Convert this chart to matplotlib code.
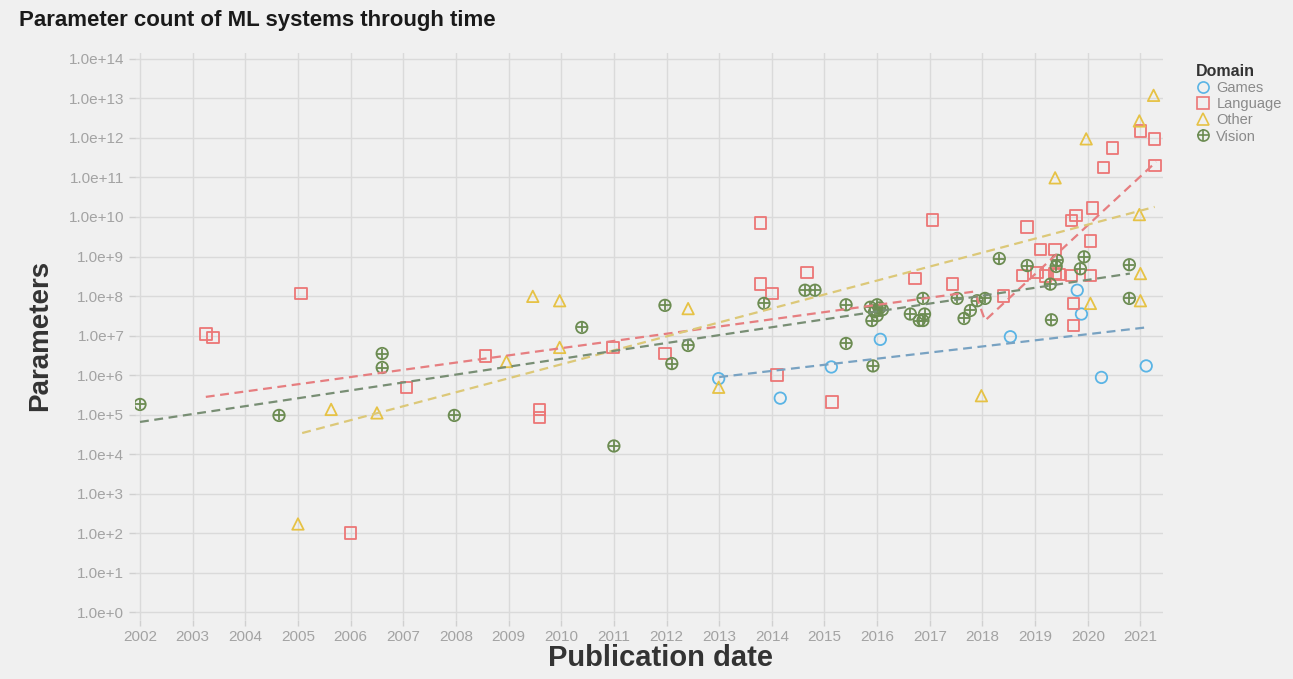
import numpy as np
import matplotlib.pyplot as plt
from matplotlib.lines import Line2D
from matplotlib.legend_handler import HandlerTuple
from matplotlib.ticker import FuncFormatter, NullLocator

plt.rcParams['font.family'] = ['Liberation Sans', 'DejaVu Sans']

# data (publication year, parameter count)
games_year = [2012.99, 2014.16, 2015.13, 2016.06, 2018.53, 2019.80, 2019.88, 2020.26, 2021.11]
games_params = [8.1e5, 2.6e5, 1.6e6, 8.0e6, 9.3e6, 1.4e8, 3.5e7, 8.7e5, 1.7e6]

language_year = [2003.25, 2003.39, 2005.06, 2006.00, 2007.06, 2008.56, 2009.59, 2009.59,
                 2010.98, 2011.97, 2013.78, 2013.78, 2014.00, 2014.10, 2014.67, 2015.14,
                 2016.72, 2017.05, 2017.43, 2018.40, 2018.76, 2018.85, 2019.04, 2019.10,
                 2019.20, 2019.38, 2019.38, 2019.45, 2019.69, 2019.69, 2019.73, 2019.73,
                 2019.78, 2020.05, 2020.05, 2020.09, 2020.30, 2020.47, 2021.00, 2021.27,
                 2021.28]
language_params = [1.1e7, 9.0e6, 1.15e8, 1.0e2, 4.9e5, 3.0e6, 1.35e5, 8.5e4,
                   5.0e6, 3.5e6, 7.0e9, 2.0e8, 1.15e8, 1.0e6, 4.0e8, 2.1e5,
                   2.75e8, 8.5e9, 2.0e8, 1.0e8, 3.3e8, 5.6e9, 4.0e8, 1.5e9,
                   3.2e8, 1.5e9, 3.7e8, 3.5e8, 8.1e9, 3.3e8, 6.5e7, 1.8e7,
                   1.1e10, 3.3e8, 2.5e9, 1.7e10, 1.8e11, 5.6e11, 1.5e12, 9.5e11,
                   2.0e11]

other_year = [2005.00, 2005.63, 2006.50, 2008.96, 2009.46, 2009.97, 2009.97, 2012.41,
              2012.99, 2017.98, 2019.38, 2019.97, 2020.05, 2020.98, 2021.25, 2020.98,
              2021.00, 2021.00]
other_params = [1.7e2, 1.35e5, 1.1e5, 2.2e6, 9.8e7, 7.6e7, 5.0e6, 4.8e7,
                4.9e5, 3.0e5, 9.8e10, 9.5e11, 6.5e7, 2.7e12, 1.2e13, 1.15e10,
                3.7e8, 7.6e7]

vision_year = [2002.00, 2004.64, 2006.60, 2006.60, 2007.97, 2010.39, 2011.00, 2011.97,
               2012.10, 2012.41, 2013.85, 2014.63, 2014.82, 2015.41, 2015.41, 2015.87,
               2015.92, 2015.95, 2016.00, 2016.05, 2015.90, 2016.10, 2016.00, 2016.63,
               2016.80, 2016.87, 2016.90, 2016.87, 2017.52, 2017.65, 2017.77, 2017.90,
               2018.05, 2018.32, 2018.85, 2019.29, 2019.31, 2019.42, 2019.40, 2019.86,
               2019.93, 2020.79, 2020.79]
vision_params = [1.8e5, 9.5e4, 3.5e6, 1.55e6, 9.5e4, 1.6e7, 1.6e4, 5.8e7,
                 1.95e6, 5.6e6, 6.5e7, 1.4e8, 1.4e8, 6.0e7, 6.3e6, 5.2e7,
                 1.7e6, 4.0e7, 3.2e7, 5.0e7, 2.4e7, 4.5e7, 6.0e7, 3.5e7,
                 2.4e7, 2.4e7, 3.5e7, 8.7e7, 8.7e7, 2.7e7, 4.3e7, 7.6e7,
                 8.7e7, 8.9e8, 5.9e8, 2.0e8, 2.5e7, 8.0e8, 5.6e8, 4.9e8,
                 9.8e8, 6.2e8, 8.7e7]

# trend lines as drawn on the chart
games_trend_year = [2013.0, 2021.1]
games_trend_params = [8.9e5, 1.6e7]
language_trend_year = [2003.25, 2017.85, 2018.05, 2021.3]
language_trend_params = [2.8e5, 1.3e8, 2.4e7, 2.5e11]
other_trend_year = [2005.08, 2021.27]
other_trend_params = [3.4e4, 1.8e10]
vision_trend_year = [2002.0, 2020.8]
vision_trend_params = [6.5e4, 3.7e8]

c_games = '#5ab4e5'
c_lang = '#ec7676'
c_other = '#e6c245'
c_vision = '#6c8c52'
bg = '#f0f0f0'

fig = plt.figure(figsize=(12.93, 6.79), dpi=100, facecolor=bg)
ax = fig.add_axes([0.1042, 0.0869, 0.7949, 0.835])
ax.set_facecolor(bg)
ax.set_yscale('log')
ax.set_xlim(2001.9, 2021.42)
ax.set_ylim(10 ** -0.2, 10 ** 14.15)
ax.set_xticks(range(2002, 2022))
ax.set_yticks([10.0 ** k for k in range(15)])
ax.yaxis.set_minor_locator(NullLocator())
ax.yaxis.set_major_formatter(FuncFormatter(lambda v, p: "1.0e+%d" % round(np.log10(v))))
ax.grid(True, color='#dadada', lw=1)
ax.set_axisbelow(True)
for s in ax.spines.values():
    s.set_visible(False)
ax.tick_params(colors='#d0d0d0', labelcolor='#a3a3a3', labelsize=11, length=4, width=1)

ms = 68
lw = 1.3
ax.scatter(games_year, games_params, s=ms, marker='o', facecolors='none', edgecolors=c_games, linewidths=lw, zorder=2)
ax.scatter(language_year, language_params, s=ms, marker='s', facecolors='none', edgecolors=c_lang, linewidths=lw, zorder=2)
ax.scatter(other_year, other_params, s=ms, marker='^', facecolors='none', edgecolors=c_other, linewidths=lw, zorder=2)
ax.scatter(vision_year, vision_params, s=ms, marker='o', facecolors='none', edgecolors=c_vision, linewidths=lw, zorder=2)
ax.scatter(vision_year, vision_params, s=ms * 0.8, marker='+', color=c_vision, linewidths=lw, zorder=2)

dash = (0, (4, 2.5))
ax.plot(games_trend_year, games_trend_params, ls=dash, lw=1.6, color='#78a2c2', zorder=3)
ax.plot(language_trend_year, language_trend_params, ls=dash, lw=1.6, color='#e67e80', zorder=3)
ax.plot(other_trend_year, other_trend_params, ls=dash, lw=1.6, color='#dcc878', zorder=3)
ax.plot(vision_trend_year, vision_trend_params, ls=dash, lw=1.6, color='#788e74', zorder=3)

fig.text(0.015, 0.97, 'Parameter count of ML systems through time', fontsize=16,
         fontweight='bold', color='#1a1a1a', va='center', ha='left')
fig.text(40 / 1293, 1 - 335 / 679, 'Parameters', fontsize=20, fontweight='bold',
         color='#333333', rotation=90, va='center', ha='center')
fig.text(661 / 1293, 1 - 658 / 679, 'Publication date', fontsize=21, fontweight='bold',
         color='#333333', va='center', ha='center')

def mk(marker, color):
    return Line2D([], [], ls='none', marker=marker, mfc='none', mec=color, color=color, ms=8, mew=1.2)

handles = [mk('o', c_games), mk('s', c_lang), mk('^', c_other), (mk('o', c_vision), mk('+', c_vision))]
leg = fig.legend(handles, ['Games', 'Language', 'Other', 'Vision'], title='Domain',
                 loc='upper left', bbox_to_anchor=(1190 / 1293, 1 - 58 / 679), frameon=False,
                 handler_map={tuple: HandlerTuple(ndivide=1, pad=0)}, handlelength=1,
                 handletextpad=0.4, labelspacing=0.15, borderaxespad=0, fontsize=10.5,
                 title_fontproperties={'weight': 'bold', 'size': 11.5}, alignment='left')
for t in leg.get_texts():
    t.set_color('#8a8a8a')
leg.get_title().set_color('#333333')

fig.savefig('out.png', dpi=100, facecolor=bg)
